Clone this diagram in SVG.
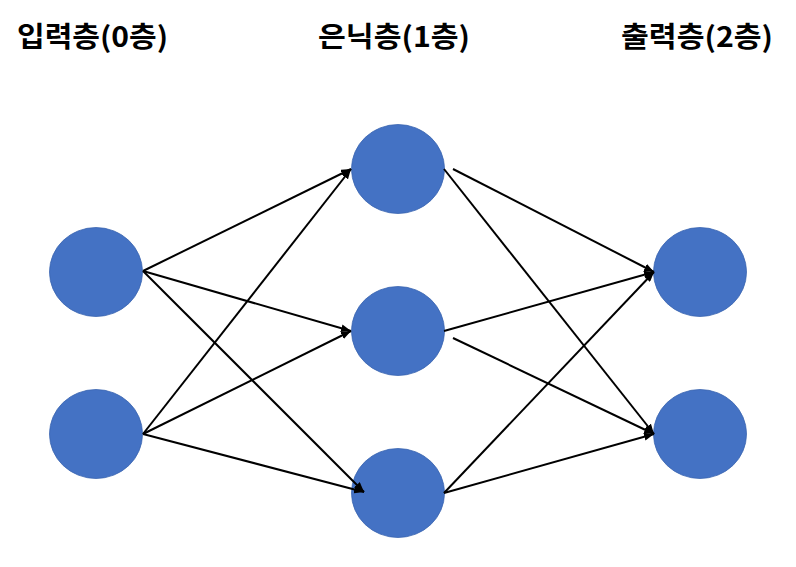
<svg xmlns="http://www.w3.org/2000/svg" width="796" height="567" viewBox="0 0 796 567">
<style>
.t{font-family:"Noto Sans CJK KR","Liberation Sans",sans-serif;font-weight:bold;font-size:28px;fill:#000;text-anchor:middle}
.n{fill:#4472C4;stroke:#3A64B0;stroke-width:0.8}
.c line{stroke:#000;stroke-width:2;marker-end:url(#a)}
</style>
<defs>
<marker id="a" viewBox="0 0 10 8" refX="10" refY="4" markerWidth="5" markerHeight="4" orient="auto" markerUnits="strokeWidth">
<path d="M0,0 L10,4 L0,8 z" fill="#000"/>
</marker>
</defs>
<text class="t" x="92.5" y="47" textLength="151" lengthAdjust="spacingAndGlyphs">입력층(0층)</text>
<text class="t" x="394" y="47" textLength="152" lengthAdjust="spacingAndGlyphs">은닉층(1층)</text>
<text class="t" x="697" y="47" textLength="152" lengthAdjust="spacingAndGlyphs">출력층(2층)</text>
<g id="in1"><ellipse class="n" cx="96" cy="272" rx="46.5" ry="44.5"/></g>
<g id="in2"><ellipse class="n" cx="96" cy="434" rx="46.5" ry="44.5"/></g>
<g id="h1"><ellipse class="n" cx="398" cy="169" rx="46.5" ry="44.5"/></g>
<g id="h2"><ellipse class="n" cx="398" cy="331" rx="46.5" ry="44.5"/></g>
<g id="h3"><ellipse class="n" cx="398" cy="493" rx="46.5" ry="44.5"/></g>
<g id="o1"><ellipse class="n" cx="700" cy="272" rx="46.5" ry="44.5"/></g>
<g id="o2"><ellipse class="n" cx="700" cy="434" rx="46.5" ry="44.5"/></g>
<g class="c" id="connectors">
<line x1="143" y1="271" x2="351" y2="169"/>
<line x1="143" y1="271" x2="351" y2="331"/>
<line x1="143" y1="271" x2="364" y2="492"/>
<line x1="143" y1="434" x2="351" y2="169"/>
<line x1="143" y1="434" x2="351" y2="331"/>
<line x1="143" y1="434" x2="364" y2="492"/>
<line x1="453" y1="169" x2="654" y2="272"/>
<line x1="444" y1="169" x2="654" y2="434"/>
<line x1="444" y1="331" x2="654" y2="272"/>
<line x1="453" y1="338" x2="654" y2="434"/>
<line x1="444" y1="493" x2="654" y2="272"/>
<line x1="444" y1="493" x2="654" y2="434"/>
</g>
</svg>
